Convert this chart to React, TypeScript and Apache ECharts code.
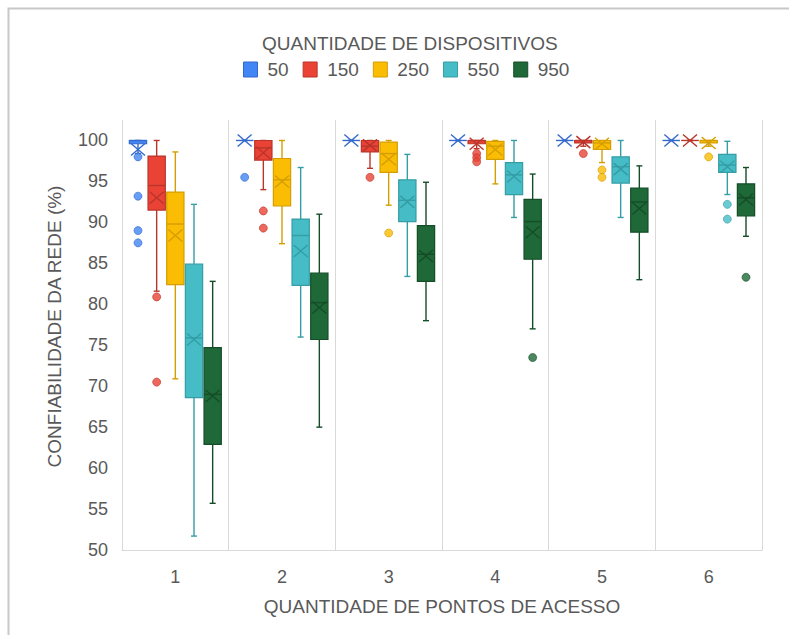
import React, { useEffect, useRef } from 'react';
import * as echarts from 'echarts';

const categories = ['1', '2', '3', '4', '5', '6'];
const seriesNames = ['50', '150', '250', '550', '950'];

// [min, Q1, median, Q3, max] per category
const stats50 = [
  [98.4, 99.6, 100, 100, 100],
  [100, 100, 100, 100, 100],
  [100, 100, 100, 100, 100],
  [100, 100, 100, 100, 100],
  [100, 100, 100, 100, 100],
  [100, 100, 100, 100, 100],
];
const stats150 = [
  [81.6, 91.5, 94.5, 98.1, 100],
  [94.0, 97.6, 99.1, 100, 100],
  [96.6, 98.6, 99.3, 100, 100],
  [99.0, 99.6, 100, 100, 100],
  [99.3, 99.7, 100, 100, 100],
  [100, 100, 100, 100, 100],
];
const stats250 = [
  [70.9, 82.4, 89.8, 93.7, 98.6],
  [87.4, 92.0, 95.2, 97.8, 100],
  [92.1, 96.1, 98.4, 99.8, 100],
  [94.7, 97.7, 99.3, 99.9, 100],
  [97.3, 98.9, 99.7, 100, 100],
  [99.3, 99.7, 100, 100, 100],
];
const stats550 = [
  [51.7, 68.6, 75.9, 84.9, 92.2],
  [76.0, 82.3, 88.4, 90.4, 96.7],
  [83.4, 90.1, 92.7, 95.2, 98.3],
  [90.6, 93.4, 95.8, 97.3, 100],
  [90.6, 94.8, 96.8, 98.0, 100],
  [93.4, 96.1, 97.0, 98.3, 99.9],
];
const stats950 = [
  [55.7, 62.9, 69.0, 74.7, 82.8],
  [65.0, 75.7, 80.2, 83.8, 91.0],
  [78.0, 82.8, 86.1, 89.6, 94.9],
  [77.0, 85.5, 90.1, 92.8, 95.9],
  [83.0, 88.8, 92.5, 94.2, 96.9],
  [88.3, 90.8, 93.0, 94.7, 96.7],
];

const means50 = [98.9, 100, 100, 100, 100, 100];
const means150 = [93.0, 98.5, 99.4, 99.6, 99.8, 100];
const means250 = [88.4, 95.0, 97.7, 98.9, 99.6, 99.7];
const means550 = [75.7, 86.5, 92.5, 95.6, 96.5, 96.8];
const means950 = [68.8, 79.6, 85.9, 88.8, 91.7, 92.8];

const outliers50 = [[98.0, 93.2, 89.0, 87.5], [95.5], [], [], [], []];
const outliers150 = [[80.9, 70.5], [91.4, 89.3], [95.5], [98.4, 97.9, 97.4], [98.4], []];
const outliers250 = [[], [], [88.7], [], [96.4, 95.5], [98.0]];
const outliers550 = [[], [], [], [], [], [92.2, 90.4]];
const outliers950 = [[], [], [], [73.5], [], [83.3]];

const yTicks = { min: 50, max: 102.5, interval: 5 };

const STATS = [stats50, stats150, stats250, stats550, stats950];
const MEANS = [means50, means150, means250, means550, means950];
const OUTLIERS = [outliers50, outliers150, outliers250, outliers550, outliers950];

const FILLS = ['#4285F4', '#EA4335', '#FBBC04', '#46BDC6', '#1E6937'];
const STROKES = ['#3469CC', '#B9352B', '#D49E00', '#349DA5', '#154D28'];
const TEXT = '#595959';
const FONT = '"Liberation Sans", Arial, sans-serif';

const CHART_W = 789;
const CHART_H = 635;
const GRID = { left: 122, right: 27, top: 120, bottom: 85 };
const BAND = (CHART_W - GRID.left - GRID.right) / categories.length;
const SPACING_FR = 0.175;
const BOX_FR = 0.162;

function makeRender(k: number) {
  return (params: any, api: any) => {
    const ci = api.value(0);
    const bw = api.size([1, 0])[0];
    const spacing = bw * SPACING_FR;
    const half = (bw * BOX_FR) / 2;
    const cx = api.coord([ci, 75])[0] + (k - 2) * spacing;
    const py = (v: number) => api.coord([ci, v])[1];
    const mn = api.value(1);
    const q1 = api.value(2);
    const md = api.value(3);
    const q3 = api.value(4);
    const mx = api.value(5);
    const mean = api.value(6);
    const stroke = STROKES[k];
    const fill = FILLS[k];
    const ls = { stroke, lineWidth: 1.4, fill: 'none' };
    const capHalf = 3;
    const ym = py(mean);
    return {
      type: 'group',
      children: [
        { type: 'line', shape: { x1: cx, y1: py(mx), x2: cx, y2: py(q3) }, style: ls },
        { type: 'line', shape: { x1: cx, y1: py(q1), x2: cx, y2: py(mn) }, style: ls },
        { type: 'line', shape: { x1: cx - capHalf, y1: py(mx), x2: cx + capHalf, y2: py(mx) }, style: ls },
        { type: 'line', shape: { x1: cx - capHalf, y1: py(mn), x2: cx + capHalf, y2: py(mn) }, style: ls },
        {
          type: 'rect',
          shape: { x: cx - half, y: py(q3), width: half * 2, height: py(q1) - py(q3) },
          style: { fill, stroke, lineWidth: 1.2 },
        },
        { type: 'line', shape: { x1: cx - half, y1: py(md), x2: cx + half, y2: py(md) }, style: ls },
        { type: 'line', shape: { x1: cx - 7, y1: ym - 6, x2: cx + 7, y2: ym + 6 }, style: ls },
        { type: 'line', shape: { x1: cx - 7, y1: ym + 6, x2: cx + 7, y2: ym - 6 }, style: ls },
      ],
    };
  };
}

export default function App() {
  const ref = useRef<HTMLDivElement>(null);
  useEffect(() => {
    if (!ref.current) return;
    const chart = echarts.init(ref.current, undefined, { renderer: 'svg' });
    const boxSeries = seriesNames.map((name, k) => ({
      type: 'custom',
      name,
      renderItem: makeRender(k),
      itemStyle: { color: FILLS[k] },
      encode: { x: 0, y: [1, 2, 3, 4, 5, 6] },
      data: STATS[k].map((s, ci) => [ci, ...s, MEANS[k][ci]]),
      z: 2,
    }));
    const outlierSeries = seriesNames.map((name, k) => ({
      type: 'scatter',
      name,
      symbol: 'circle',
      symbolSize: 8,
      symbolOffset: [(k - 2) * BAND * SPACING_FR, 0],
      itemStyle: { color: FILLS[k], borderColor: STROKES[k], borderWidth: 0.8 },
      data: OUTLIERS[k].flatMap((arr, ci) => arr.map((v) => [ci, v])),
      z: 3,
    }));
    chart.setOption({
      animation: false,
      backgroundColor: '#ffffff',
      textStyle: { fontFamily: FONT },
      graphic: [
        {
          type: 'rect',
          shape: { x: 8.5, y: 8.5, width: 900, height: 900 },
          style: { fill: 'none', stroke: '#C8C8C8', lineWidth: 2 },
          z: 0,
        },
      ],
      title: {
        text: 'QUANTIDADE DE DISPOSITIVOS',
        left: 262,
        top: 34,
        padding: 0,
        textStyle: { fontFamily: FONT, fontSize: 19, fontWeight: 'normal', color: TEXT },
      },
      legend: {
        left: 243,
        top: 60,
        padding: 0,
        itemWidth: 14,
        itemHeight: 15,
        itemGap: 14,
        textStyle: { fontFamily: FONT, fontSize: 19, color: TEXT, padding: [0, 0, 0, 5] },
        data: seriesNames.map((n, k) => ({
          name: n,
          icon: 'rect',
          itemStyle: { color: FILLS[k], borderColor: STROKES[k], borderWidth: 1 },
        })),
      },
      grid: { ...GRID },
      xAxis: {
        type: 'category',
        data: categories,
        boundaryGap: true,
        name: 'QUANTIDADE DE PONTOS DE ACESSO',
        nameLocation: 'middle',
        nameGap: 47,
        nameTextStyle: { fontFamily: FONT, fontSize: 19, color: TEXT },
        axisLine: { show: true, lineStyle: { color: '#D9D9D9', width: 1 } },
        axisTick: { show: false },
        axisLabel: { fontFamily: FONT, fontSize: 18, color: TEXT, margin: 18 },
        splitLine: { show: true, interval: 0, lineStyle: { color: '#D9D9D9', width: 1 } },
      },
      yAxis: {
        type: 'value',
        min: yTicks.min,
        max: yTicks.max,
        interval: yTicks.interval,
        name: 'CONFIABILIDADE DA REDE (%)',
        nameLocation: 'middle',
        nameGap: 58,
        nameTextStyle: { fontFamily: FONT, fontSize: 19, color: TEXT, padding: [0, 0, 0, 17] },
        axisLine: { show: false },
        axisTick: { show: false },
        splitLine: { show: false },
        axisLabel: {
          fontFamily: FONT,
          fontSize: 18,
          color: TEXT,
          margin: 14,
          showMaxLabel: false,
          formatter: (v: number) => (v > 100 ? '' : String(v)),
        },
      },
      series: [...boxSeries, ...outlierSeries],
    });
    return () => chart.dispose();
  }, []);
  return (
    <div
      ref={ref}
      style={{ position: 'absolute', left: 0, top: 0, width: CHART_W, height: CHART_H, background: '#fff' }}
    />
  );
}
